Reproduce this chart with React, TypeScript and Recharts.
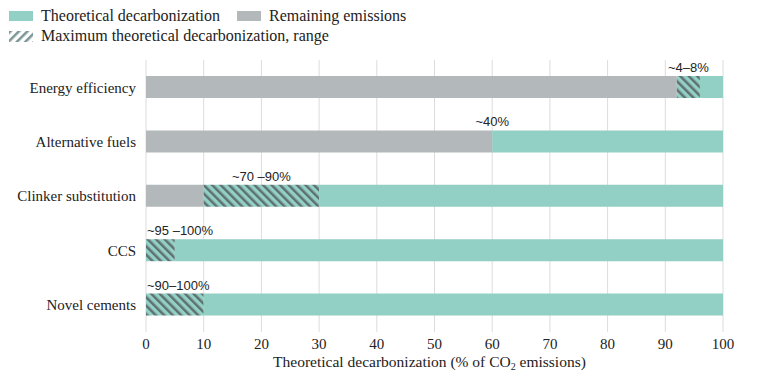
import { BarChart, Bar, XAxis, YAxis, CartesianGrid, LabelList } from 'recharts'

const categories = ['Energy efficiency', 'Alternative fuels', 'Clinker substitution', 'CCS', 'Novel cements']
const remaining = [92, 60, 10, 0, 0]
const rangeMax = [4, 0, 20, 5, 10]
const theoretical = [4, 40, 70, 95, 90]
const rangeLabels = ['~4–8%', '~40%', '~70 –90%', '~95 –100%', '~90–100%']
const xTicks = [0, 10, 20, 30, 40, 50, 60, 70, 80, 90, 100]

const TEAL = '#92cfc4'
const GREY = '#b3b9ba'
const STRIPE = '#5f7072'
const SERIF = '"Liberation Serif", serif'
const SANS = '"Liberation Sans", Arial, sans-serif'

const data = categories.map((name, i) => ({
  name,
  remaining: remaining[i],
  range: rangeMax[i],
  theoretical: theoretical[i],
  label: rangeLabels[i],
}))

// rows where the label sits at the left of the bar instead of centred on the range
const leftAligned = ['CCS', 'Novel cements']

// attached to the teal segment (present in every row); the range segment sits just left of it
function RangeLabel(props: any) {
  const { x, y, width, value } = props
  const row = data.find((d) => d.label === value)
  if (!row) return null
  const pxPerUnit = width / row.theoretical
  const rangeStart = x - row.range * pxPerUnit
  const start = leftAligned.includes(row.name)
  return (
    <text
      x={start ? rangeStart + 1 : x - (row.range * pxPerUnit) / 2}
      y={y - 4}
      textAnchor={start ? 'start' : 'middle'}
      fontFamily={SANS}
      fontSize={13}
      fill="#222"
    >
      {row.label}
    </text>
  )
}

function AxisTitle(props: any) {
  const vb = props.viewBox
  return (
    <text x={vb.x + vb.width / 2 - 5} y={vb.y + 35} textAnchor="middle" fontFamily={SERIF} fontSize={15.5} fill="#222">
      Theoretical decarbonization (% of CO
      <tspan fontSize={10} dy={3}>2</tspan>
      <tspan dy={-3}> emissions)</tspan>
    </text>
  )
}

function Legend() {
  const item = { display: 'flex', alignItems: 'center', gap: 8 } as const
  return (
    <div
      style={{
        position: 'absolute',
        left: 9,
        top: 6,
        fontFamily: SERIF,
        fontSize: 16,
        color: '#222',
        lineHeight: '20px',
      }}
    >
      <div style={{ display: 'flex', gap: 17 }}>
        <div style={item}>
          <span style={{ width: 24, height: 10, background: TEAL, display: 'inline-block' }} />
          Theoretical decarbonization
        </div>
        <div style={item}>
          <span style={{ width: 24, height: 10, background: GREY, display: 'inline-block' }} />
          Remaining emissions
        </div>
      </div>
      <div style={item}>
        <svg width={24} height={11}>
          <defs>
            <pattern id="legendHatch" patternUnits="userSpaceOnUse" width={6} height={6} patternTransform="rotate(45)">
              <rect width={6} height={6} fill="#fff" />
              <line x1={0} y1={0} x2={0} y2={6} stroke="#7a9596" strokeWidth={5} />
            </pattern>
          </defs>
          <rect width={24} height={11} fill="url(#legendHatch)" />
        </svg>
        Maximum theoretical decarbonization, range
      </div>
    </div>
  )
}

export default function App() {
  return (
    <div style={{ position: 'absolute', left: 0, top: 0, width: 784, height: 390, background: '#fff' }}>
      <Legend />
      <BarChart
        width={784}
        height={390}
        data={data}
        layout="vertical"
        margin={{ top: 60, right: 61, bottom: 18, left: 0 }}
        barSize={22}
      >
        <defs>
          <pattern id="rangeHatch" patternUnits="userSpaceOnUse" width={6} height={6} patternTransform="rotate(-45)">
            <rect width={6} height={6} fill={TEAL} />
            <line x1={0} y1={0} x2={0} y2={6} stroke={STRIPE} strokeWidth={5} />
          </pattern>
        </defs>
        <CartesianGrid horizontal={false} stroke="#dcdcdc" />
        <XAxis
          type="number"
          domain={[0, 100]}
          ticks={xTicks}
          axisLine={false}
          tickLine={false}
          height={40}
          tick={{ fontFamily: SERIF, fontSize: 15, fill: '#222' }}
          tickMargin={0}
          label={<AxisTitle />}
        />
        <YAxis
          type="category"
          dataKey="name"
          width={146}
          axisLine={false}
          tickLine={false}
          tickMargin={4}
          tick={{ fontFamily: SERIF, fontSize: 15, fill: '#222' }}
        />
        <Bar dataKey="remaining" stackId="a" fill={GREY} isAnimationActive={false} />
        <Bar dataKey="range" stackId="a" fill="url(#rangeHatch)" isAnimationActive={false} />
        <Bar dataKey="theoretical" stackId="a" fill={TEAL} isAnimationActive={false}>
          <LabelList dataKey="label" content={<RangeLabel />} />
        </Bar>
      </BarChart>
    </div>
  )
}
